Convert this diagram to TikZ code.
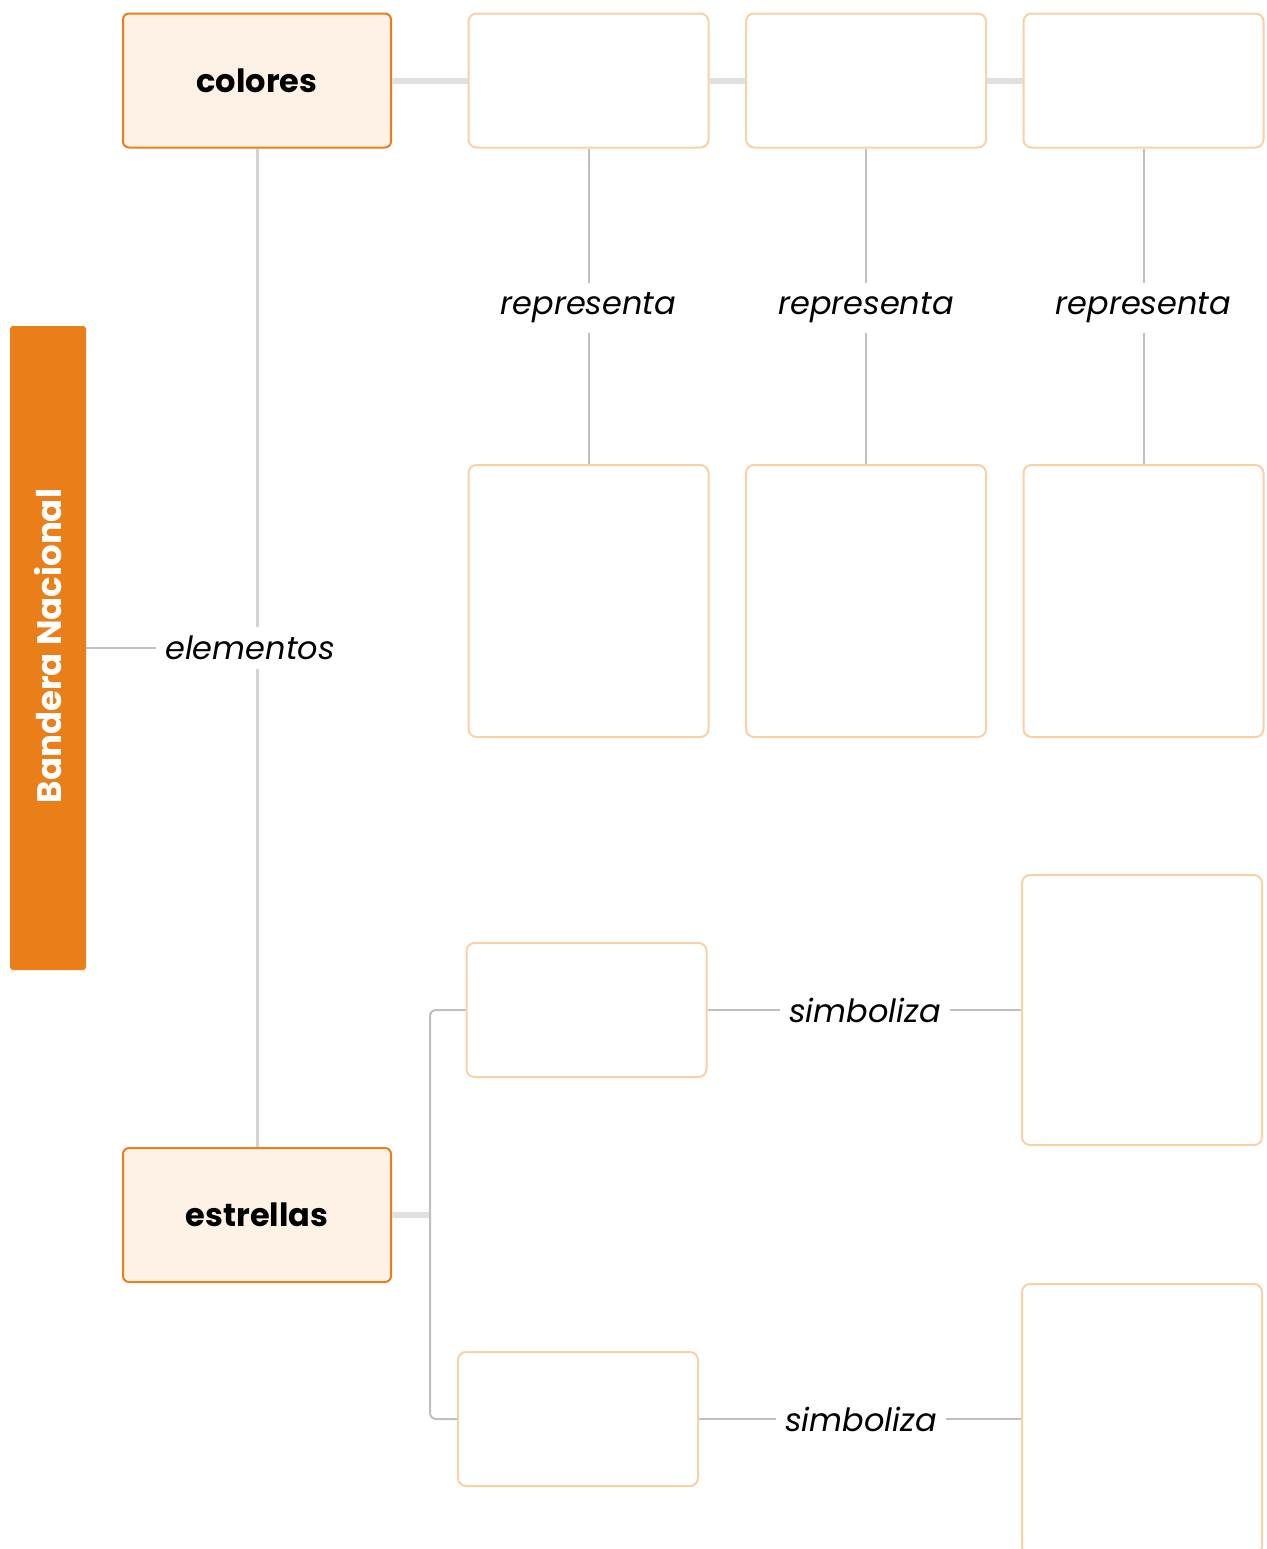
\documentclass[tikz,border=0pt]{standalone}
\usepackage{fontspec}
\setmainfont{Poppins}
\definecolor{barColor}{RGB}{234,126,24}
\definecolor{mainFill}{RGB}{254,242,230}
\definecolor{boxColor}{RGB}{250,208,166}
\definecolor{linkColor}{RGB}{192,192,192}
\definecolor{trunkColor}{RGB}{212,212,212}
\definecolor{busColor}{RGB}{224,224,224}
\tikzset{
  barbox/.style={fill=barColor,draw=none,rounded corners=1.5pt,minimum width=38pt,minimum height=322pt,inner sep=0pt},
  mainbox/.style={fill=mainFill,draw=barColor,line width=1pt,rounded corners=3pt,minimum width=134pt,minimum height=67pt,font=\fontsize{16}{19}\selectfont\bfseries},
  blankbox/.style={fill=white,draw=boxColor,line width=1pt,rounded corners=4pt,minimum width=120pt,inner sep=0pt},
  linklabel/.style={fill=white,inner sep=4.5pt,font=\fontsize{16}{19}\selectfont\itshape},
  busline/.style={draw=busColor,line width=3pt},
  trunkline/.style={draw=trunkColor,line width=1.5pt},
  linkline/.style={draw=linkColor,line width=1pt}
}
\begin{document}
\begin{tikzpicture}[x=0.5pt,y=-0.5pt]
\path[use as bounding box,fill=white] (0,0) rectangle (1267,1549);
\begin{scope}
\path[clip] (0,0) rectangle (1267,1549);

% left bar and the two main boxes
\node[barbox] (bandera) at (48,648) {};
\node[rotate=90,text=white,font=\fontsize{17}{20}\selectfont\bfseries] (banderatext) at (48,646) {Bandera Nacional};
\node[mainbox] (colores) at (257,80.5) {colores};
\node[mainbox] (estrellas) at (257,1215) {estrellas};
\node[linklabel] (elementos) at (250,648) {elementos};

% colours row
\node[blankbox,minimum height=67pt] (color1) at (588.5,80.5) {};
\node[blankbox,minimum height=67pt] (color2) at (866,80.5) {};
\node[blankbox,minimum height=67pt] (color3) at (1143.5,80.5) {};
\node[blankbox,minimum height=136pt] (mean1) at (588.5,601) {};
\node[blankbox,minimum height=136pt] (mean2) at (866,601) {};
\node[blankbox,minimum height=136pt] (mean3) at (1143.5,601) {};
\node[linklabel] (rep1) at (588.5,308) {representa};
\node[linklabel] (rep2) at (866,308) {representa};
\node[linklabel] (rep3) at (1143.5,308) {representa};

% stars rows
\node[blankbox,minimum height=67pt] (star1) at (586.5,1010) {};
\node[blankbox,minimum height=67pt] (star2) at (578,1419) {};
\node[blankbox,minimum height=135pt] (sym1) at (1142,1010) {};
\node[blankbox,minimum height=135pt] (sym2) at (1142,1419) {};
\node[linklabel] (simb1) at (865,1010) {simboliza};
\node[linklabel] (simb2) at (861,1419) {simboliza};
\coordinate (fork) at (430,1215);

% connectors
\path[trunkline] (colores.south) -- (colores.south |- elementos.north);
\path[trunkline] (estrellas.north |- elementos.south) -- (estrellas.north);
\path[linkline] (bandera.east |- elementos) -- (elementos.west);
\path[busline] (colores.east) -- (color1.west);
\path[busline] (color1.east) -- (color2.west);
\path[busline] (color2.east) -- (color3.west);
\path[linkline] (color1.south) -- (rep1.north);
\path[linkline] (rep1.south) -- (mean1.north);
\path[linkline] (color2.south) -- (rep2.north);
\path[linkline] (rep2.south) -- (mean2.north);
\path[linkline] (color3.south) -- (rep3.north);
\path[linkline] (rep3.south) -- (mean3.north);
\path[busline] (estrellas.east) -- (fork);
\path[linkline,rounded corners=3pt] (star1.west) -| (fork) |- (star2.west);
\path[linkline] (star1.east) -- (simb1.west);
\path[linkline] (simb1.east) -- (sym1.west);
\path[linkline] (star2.east) -- (simb2.west);
\path[linkline] (simb2.east) -- (sym2.west);
\end{scope}
\end{tikzpicture}
\end{document}
